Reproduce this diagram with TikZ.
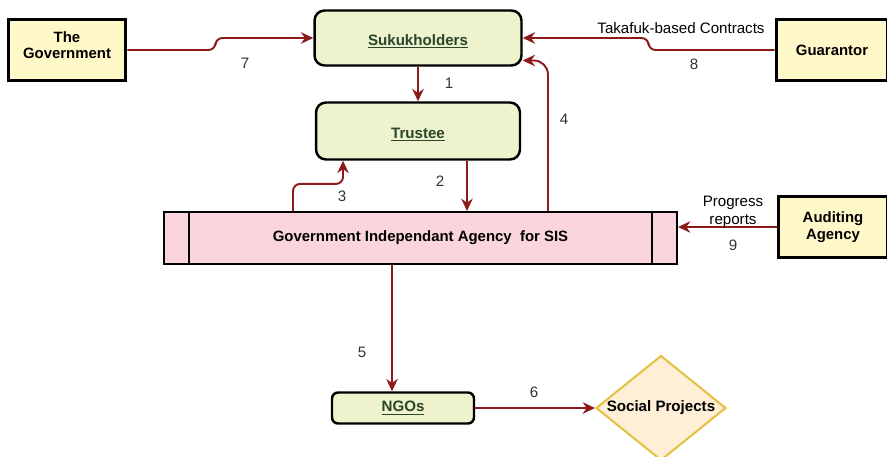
\documentclass[tikz,border=0pt]{standalone}
\usepackage{fontspec}
\setmainfont{Liberation Sans}
\usetikzlibrary{positioning,arrows.meta,shapes.geometric}
\definecolor{flowred}{HTML}{8B1A1A}
\definecolor{partyfill}{HTML}{FFF8C9}
\definecolor{roundfill}{HTML}{EEF2CD}
\definecolor{agencyfill}{HTML}{FAD5DC}
\definecolor{projfill}{HTML}{FFEFD6}
\definecolor{projline}{HTML}{E6C244}
\definecolor{darkgreen}{HTML}{2A452A}

\begin{document}
\begin{tikzpicture}[x=0.02cm,y=-0.02cm,
    font=\fontsize{8.6}{10}\selectfont,
    party/.style={draw,line width=1.7pt,fill=partyfill,minimum width=2.36cm,minimum height=1.22cm,align=center,font=\fontsize{8.5}{9.5}\selectfont\bfseries},
    roundbox/.style={draw,line width=1.4pt,rounded corners=0.2cm,fill=roundfill,align=center,text=darkgreen,font=\fontsize{8.6}{10}\selectfont\bfseries},
    flow/.style={draw=flowred,line width=1.1pt,-{Stealth[length=7pt,width=6.5pt]},rounded corners=4pt},
    num/.style={text=black!80}]
    \useasboundingbox (0,0) rectangle (887,457);

    \node (gov) [party] at (67,50) {The \\ Government \\[-4pt]};
    \node (guar) [party,minimum width=2.24cm] at (832,50) {Guarantor};
    \node (aud) [party,minimum width=2.2cm] at (833,227) {Auditing \\ Agency};

    \node (sukuk) [roundbox,minimum width=4.14cm,minimum height=1.1cm,text height=10pt,text depth=2pt] at (418,38) {\underline{Sukukholders}};
    \node (trustee) [roundbox,minimum width=4.08cm,minimum height=1.14cm,text height=10pt,text depth=2pt] at (418,131) {\underline{Trustee}};
    \node (ngos) [roundbox,rounded corners=0.12cm,minimum width=2.84cm,minimum height=0.62cm] at (403,408) {\underline{NGOs}};

    \node (agency) [draw,line width=1.2pt,fill=agencyfill,minimum width=10.26cm,minimum height=1.04cm,font=\fontsize{8.5}{10}\selectfont\bfseries] at (420.5,238) {Government Independant Agency~ for SIS};
    \draw[line width=1.2pt] ([xshift=0.52cm]agency.north west) -- ([xshift=0.52cm]agency.south west);
    \draw[line width=1.2pt] ([xshift=-0.52cm]agency.north east) -- ([xshift=-0.52cm]agency.south east);

    \node (proj) [diamond,draw=projline,line width=1.2pt,fill=projfill,aspect=1.25,minimum width=2.6cm,minimum height=2.1cm,inner sep=0pt,font=\fontsize{8.6}{10}\selectfont\bfseries] at (661,408) {Social Projects};

    % flows
    \draw[flow] (sukuk.south) -- (trustee.north);
    \draw[flow] ([xshift=0.98cm]trustee.south) -- ([xshift=0.98cm]trustee.south |- agency.north);
    \draw[flow] ([xshift=-2.55cm]agency.north) -- ++(0,0.54cm) -| ([xshift=-1.5cm]trustee.south);
    \draw[flow,rounded corners=8pt] ([xshift=2.55cm]agency.north) |- ([yshift=-0.45cm]sukuk.east);
    \draw[flow] ([xshift=-0.22cm]ngos.north |- agency.south) -- ([xshift=-0.22cm]ngos.north);
    \draw[flow] (ngos.east) -- (proj.west);
    \draw[flow] (gov.east) -- ++(1.76cm,0) |- (sukuk.west);
    \draw[flow] (guar.west) -- ++(-2.52cm,0) |- (sukuk.east);
    \draw[flow] (aud.west) -- (aud.west -| agency.east);

    % labels
    \node (l1) [num] at (449,83) {1};
    \node (l2) [num] at (440,181) {2};
    \node (l3) [num] at (342,196) {3};
    \node (l4) [num] at (564,119) {4};
    \node (l5) [num] at (362,352) {5};
    \node (l6) [num] at (534,392) {6};
    \node (l7) [num] at (245,63) {7};
    \node (l8) [num] at (694,64) {8};
    \node (l9) [num] at (733,245) {9};
    \node (takaful) at (681,28) {Takafuk-based Contracts};
    \node (progress) [align=center,inner sep=1pt] at (733,212) {Progress \\ reports};
\end{tikzpicture}
\end{document}
